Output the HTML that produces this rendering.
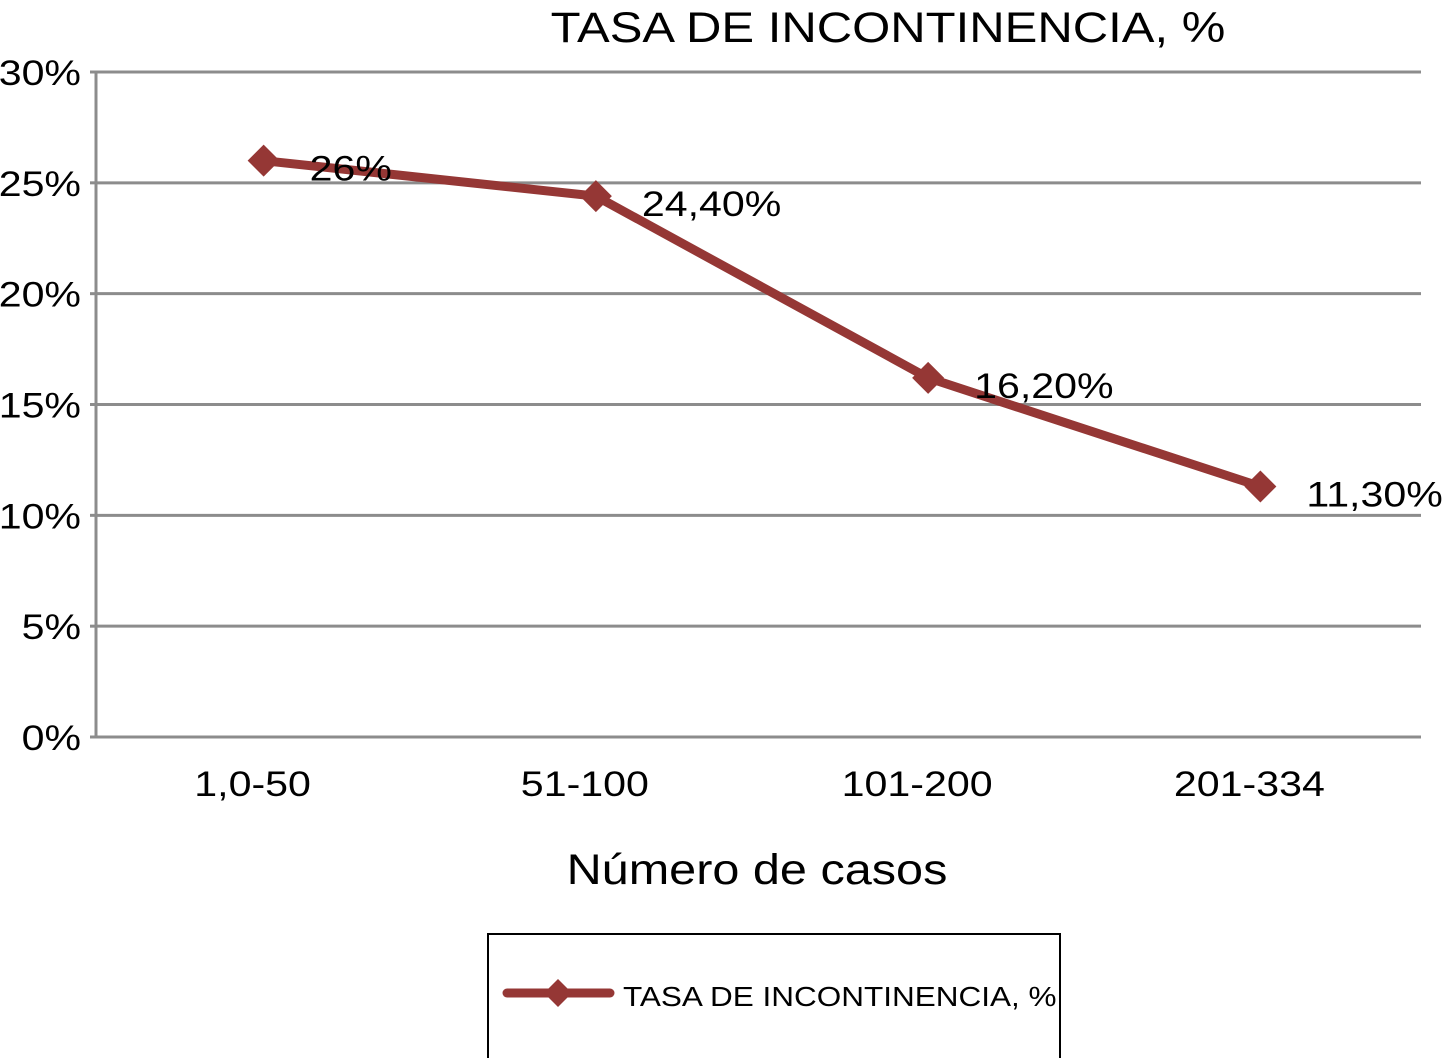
<!DOCTYPE html>
<html><head><meta charset="utf-8"><style>
html,body{margin:0;padding:0;background:#fff;}
svg{display:block;font-family:"Liberation Sans",Arial,sans-serif;}
</style></head><body>
<svg id="chart" width="1451" height="1058" viewBox="0 0 1451 1058">
<text x="888" y="42" font-size="43" text-anchor="middle" fill="#000" data-k="1.14">TASA DE INCONTINENCIA, %</text>
<g id="grid"></g>
<g id="yticks"></g>
<g id="xticks"></g>
<g id="series"></g>
<text x="757" y="884" font-size="43" text-anchor="middle" fill="#000" data-k="1.13">Número de casos</text>
<g>
<rect x="488" y="934" width="572" height="130" fill="#fff" stroke="#000" stroke-width="2"/>
<line x1="507" y1="993" x2="610" y2="993" stroke="#953735" stroke-width="9" stroke-linecap="round"/>
<path d="M558 979 L572 993 L558 1007 L544 993 Z" fill="#953735"/>
<text x="623" y="1006" font-size="28" fill="#000" data-k="1.125">TASA DE INCONTINENCIA, %</text>
</g>
</svg>
<script>
const categories = ["1,0-50","51-100","101-200","201-334"];
const values = [26, 24.4, 16.2, 11.3];
const valueLabels = ["26%","24,40%","16,20%","11,30%"];
const yTicks = [0,5,10,15,20,25,30];
const yTickLabels = ["0%","5%","10%","15%","20%","25%","30%"];

const NS="http://www.w3.org/2000/svg";
const L=96,R=1421,T=72,B=737,yMax=30;
const y=v=>B-(v/yMax)*(B-T);
const x=i=>L+(R-L)/categories.length*(i+0.5)+2+i;
function mk(tag,attrs,parent){const e=document.createElementNS(NS,tag);for(const k in attrs)e.setAttribute(k,attrs[k]);parent.appendChild(e);return e;}
const grid=document.getElementById('grid'),yt=document.getElementById('yticks'),xt=document.getElementById('xticks'),s=document.getElementById('series');
yTicks.forEach((v,i)=>{
  const g=mk('line',{x1:L,x2:R,y1:y(v),y2:y(v),stroke:'#8c8c8c','stroke-width':3},grid);
  
  
  const tk=mk('line',{x1:L-6,x2:L,y1:y(v),y2:y(v),stroke:'#8c8c8c','stroke-width':3},yt);
  
  
  const t=mk('text',{x:81,y:y(v)+13,'font-size':35,'text-anchor':'end',fill:'#000'},yt);
  t.textContent=yTickLabels[i];
  
  
});
const ax=mk('line',{x1:L,x2:L,y1:T,y2:B,stroke:'#8c8c8c','stroke-width':3},grid);


categories.forEach((c,i)=>{
  const t=mk('text',{x:x(i)-11,y:796,'font-size':35,'text-anchor':'middle',fill:'#000'},xt);
  t.textContent=c;
  
  
});
const pl=mk('polyline',{points:values.map((v,i)=>x(i)+','+y(v)).join(' '),fill:'none',stroke:'#953735','stroke-width':9,'stroke-linejoin':'round'},s);


values.forEach((v,i)=>{
  const cx=x(i),cy=y(v);
  const m=mk('path',{d:`M${cx} ${cy-16} L${cx+16} ${cy} L${cx} ${cy+16} L${cx-16} ${cy} Z`,fill:'#953735'},s);
  
  
  const t=mk('text',{x:cx+46,y:cy+20,'font-size':35,fill:'#000'},s);
  t.textContent=valueLabels[i];
  
  
});
document.querySelectorAll('text').forEach(t=>{
  const k=parseFloat(t.getAttribute('data-k')||'1.175');
  t.setAttribute('textLength',(t.getComputedTextLength()*k).toFixed(1));
  t.setAttribute('lengthAdjust','spacingAndGlyphs');
});
</script>
</body></html>
